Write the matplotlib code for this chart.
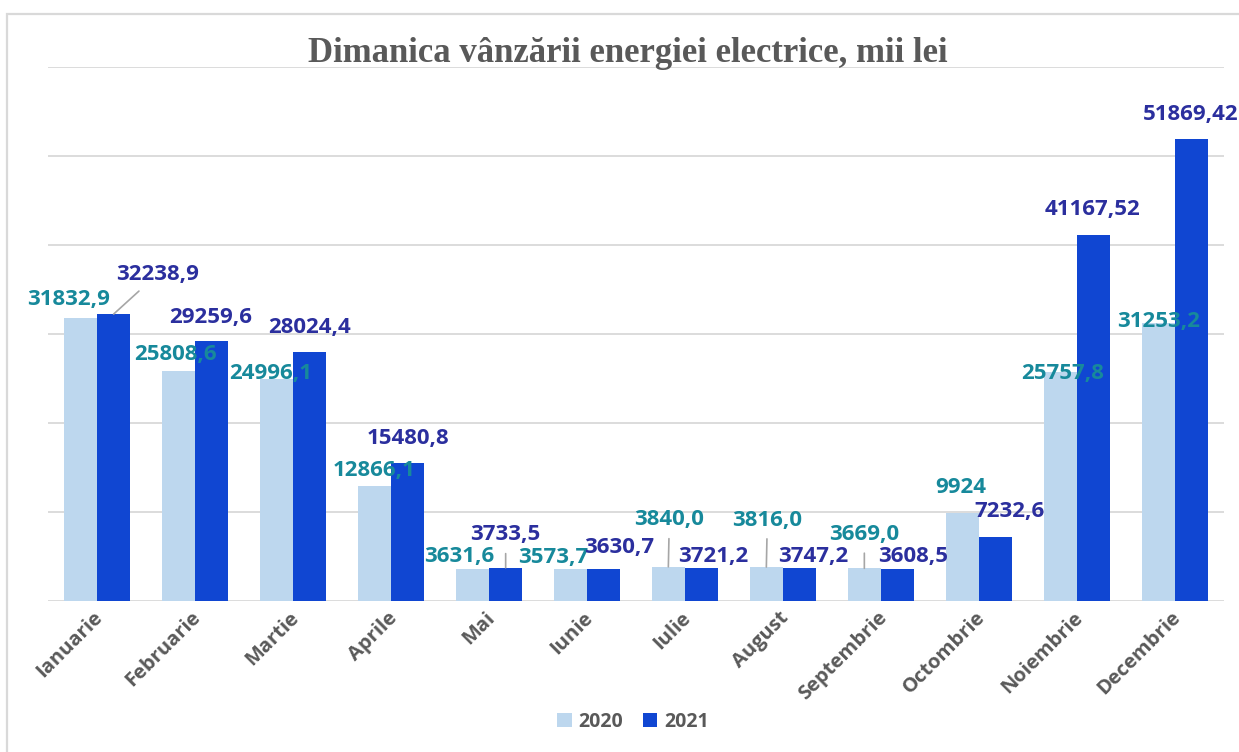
import matplotlib
matplotlib.use("Agg")
import matplotlib.pyplot as plt
import matplotlib.transforms as mtransforms
import numpy as np
from matplotlib.patches import Rectangle
from matplotlib import font_manager as fm

months = ["Ianuarie", "Februarie", "Martie", "Aprile", "Mai", "Iunie", "Iulie",
          "August", "Septembrie", "Octombrie", "Noiembrie", "Decembrie"]
v2020 = [31832.9, 25808.6, 24996.1, 12866.1, 3631.6, 3573.7, 3840.0, 3816.0,
         3669.0, 9924, 25757.8, 31253.2]
v2021 = [32238.9, 29259.6, 28024.4, 15480.8, 3733.5, 3630.7, 3721.2, 3747.2,
         3608.5, 7232.6, 41167.52, 51869.42]
lab2020 = ["31832,9", "25808,6", "24996,1", "12866,1", "3631,6", "3573,7", "3840,0",
           "3816,0", "3669,0", "9924", "25757,8", "31253,2"]
lab2021 = ["32238,9", "29259,6", "28024,4", "15480,8", "3733,5", "3630,7", "3721,2",
           "3747,2", "3608,5", "7232,6", "41167,52", "51869,42"]
series_names = ["2020", "2021"]

# label placement (pixel offsets from bar top centre) and leader-line flags
off2020 = [(-12, 18), (-3, 17), (-6, 5), (0, 16), (-13, 12), (-17, 12), (1, 47),
           (1, 47), (0, 34), (-2, 25), (2, -2), (0, 1)]
off2021 = [(44, 40), (-1, 23), (0, 24), (0, 25), (0, 33), (16, 21), (12, 11),
           (14, 11), (15, 12), (14, 25), (-1, 25), (-1, 25)]
lead2020 = [False, False, False, False, False, False, True, True, True, False, False, False]
lead2021 = [True, False, False, False, True, False, False, False, False, False, False, False]

c2020 = "#BDD7EE"
c2021 = "#1046D2"
t2020 = "#17899B"
t2021 = "#2B2F9E"
gray = "#595959"

# pick a bold sans face that really exists
FONT = "DejaVu Sans"
for cand in ["Open Sans", "Lato", "Roboto", "Noto Sans"]:
    try:
        p = fm.findfont(fm.FontProperties(family=cand, weight="bold"), fallback_to_default=False)
        if "bold" in p.lower():
            FONT = cand
            break
    except Exception:
        pass

W, H = 1239, 752
fig = plt.figure(figsize=(W / 100, H / 100), dpi=100)
fig.patch.set_facecolor("white")
fig.patches.append(Rectangle((7 / W, -0.1), 1.2, 1.1 - 14 / H, transform=fig.transFigure,
                             fill=False, edgecolor="#D9D9D9", linewidth=1.6))

ax = fig.add_axes([48 / W, 1 - 601 / H, (1224 - 48) / W, (601 - 67) / H])
x = np.arange(len(months))
bw = 0.337
sh = 0.17
b1 = ax.bar(x - sh, v2020, bw, color=c2020, label=series_names[0], zorder=2)
b2 = ax.bar(x + sh, v2021, bw, color=c2021, label=series_names[1], zorder=2)

ax.set_xlim(-0.5, len(months) - 0.5)
ax.set_ylim(0, 60000)
ax.set_yticks(np.arange(0, 60001, 10000))
ax.yaxis.grid(True, color="#D9D9D9", linewidth=1.3, zorder=0)
ax.set_axisbelow(True)
for s in ax.spines.values():
    s.set_visible(False)
ax.tick_params(axis="y", length=0, labelleft=False)
ax.tick_params(axis="x", length=0, pad=5)
ax.set_xticks(x)
ax.set_xticklabels(months, rotation=45, ha="right", rotation_mode="anchor",
                   fontsize=14.5, fontweight="bold", color=gray, family=FONT)
shift = mtransforms.ScaledTranslation(-4 / 100, 0, fig.dpi_scale_trans)
for t in ax.get_xticklabels():
    t.set_transform(t.get_transform() + shift)


def put(xs, vals, labs, offs, leads, col):
    for xi, v, lb, (dx, dy), ld in zip(xs, vals, labs, offs, leads):
        kw = {}
        if ld:
            kw["arrowprops"] = dict(arrowstyle="-", color="#A6A6A6", lw=1.2,
                                    shrinkA=4, shrinkB=0)
        ax.annotate(lb, xy=(xi, v), xytext=(dx, dy), textcoords="offset pixels",
                    ha="center", va="center", fontsize=16, fontweight="bold",
                    color=col, family=FONT, zorder=5, annotation_clip=False, **kw)


put(x - sh, v2020, lab2020, off2020, lead2020, t2020)
put(x + sh, v2021, lab2021, off2021, lead2021, t2021)

fig.text(628 / W, 1 - 54 / H, "Dimanica vânzării energiei electrice, mii lei",
         ha="center", va="center", fontsize=25, fontweight="bold", color=gray,
         family="Liberation Serif")

leg = fig.legend(handles=[b1, b2], loc="center", bbox_to_anchor=(633 / W, 1 - 722 / H),
                 ncol=2, frameon=False, handlelength=0.75, handleheight=0.75,
                 handletextpad=0.35, columnspacing=1.0,
                 prop={"family": FONT, "weight": "bold", "size": 14})
for t in leg.get_texts():
    t.set_color(gray)

fig.savefig("out.png", dpi=100)
